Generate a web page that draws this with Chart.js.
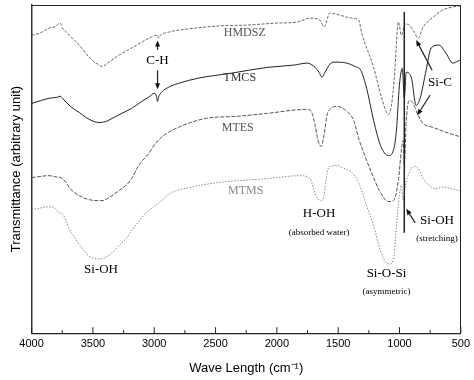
<!DOCTYPE html>
<html>
<head>
<meta charset="utf-8">
<script src="https://cdn.jsdelivr.net/npm/chart.js@4.4.0/dist/chart.umd.min.js"></script>
<style>
  html, body { margin: 0; padding: 0; background: #fff; }
  #wrap { width: 474px; height: 380px; }
</style>
</head>
<body>
<div id="wrap"><canvas id="ftir"></canvas></div>
<script>
// FTIR spectra, wavenumber (cm-1) vs transmittance (arbitrary)
const xTicks = [4000, 3500, 3000, 2500, 2000, 1500, 1000, 500];
const xMinorTicks = [3750, 3250, 2750, 2250, 1750, 1250, 750];

const hmdszWave = [4000, 3935, 3855, 3814, 3766, 3749, 3733, 3669, 3612, 3531, 3450, 3426, 3369, 3289, 3184, 3103, 3006, 2973, 2965, 2957, 2885, 2723, 2480, 2238, 1995, 1834, 1729, 1648, 1616, 1567, 1486, 1389, 1333, 1308, 1211, 1147, 1090, 1066, 1042, 1009, 985, 953, 920, 880, 848, 807, 726, 646, 565, 508];
const hmdszT = [90.8, 91.4, 93.0, 93.3, 94.5, 93.0, 92.4, 89.9, 87.8, 84.1, 81.7, 81.3, 82.6, 84.7, 86.9, 88.7, 90.5, 90.8, 89.9, 90.5, 91.7, 92.7, 93.6, 93.9, 94.5, 94.8, 96.0, 95.4, 93.3, 97.6, 96.9, 96.0, 95.4, 91.4, 81.0, 71.9, 66.7, 69.4, 78.0, 94.8, 90.8, 94.2, 93.9, 91.7, 89.9, 93.3, 96.3, 98.5, 99.4, 99.7];

const tmcsWave = [4000, 3855, 3790, 3766, 3741, 3717, 3652, 3612, 3555, 3491, 3450, 3394, 3345, 3264, 3184, 3103, 3046, 2998, 2982, 2973, 2965, 2941, 2885, 2804, 2642, 2375, 2076, 1858, 1753, 1688, 1656, 1632, 1608, 1567, 1535, 1430, 1365, 1316, 1268, 1211, 1155, 1090, 1050, 1025, 1001, 977, 961, 945, 904, 864, 832, 783, 742, 678, 621, 565, 508];
const tmcsT = [70.0, 71.6, 71.9, 72.2, 71.3, 70.3, 68.2, 67.3, 65.7, 64.5, 64.2, 64.5, 65.4, 67.0, 68.5, 70.6, 71.9, 73.1, 72.2, 70.6, 71.9, 73.4, 74.9, 76.1, 77.7, 79.2, 81.0, 81.7, 82.3, 81.0, 79.5, 78.0, 79.5, 82.0, 82.6, 82.3, 81.3, 80.1, 74.6, 64.8, 57.2, 54.1, 55.7, 61.8, 75.5, 80.7, 71.6, 79.5, 78.0, 69.4, 71.6, 80.1, 86.9, 87.8, 85.3, 82.3, 83.2];

const mtesWave = [4000, 3855, 3814, 3749, 3669, 3612, 3531, 3475, 3426, 3369, 3289, 3232, 3184, 3127, 3046, 2990, 2925, 2804, 2585, 2319, 2076, 1753, 1713, 1688, 1664, 1640, 1616, 1591, 1559, 1510, 1430, 1373, 1333, 1292, 1228, 1163, 1090, 1050, 1009, 985, 969, 961, 945, 920, 888, 856, 807, 726, 621, 508];
const mtesT = [47.4, 48.0, 47.7, 47.1, 43.4, 41.9, 40.7, 40.4, 40.4, 41.3, 43.4, 45.0, 47.1, 51.1, 54.7, 57.8, 60.2, 62.7, 65.4, 66.1, 67.0, 68.2, 67.0, 63.3, 58.7, 56.9, 60.2, 66.4, 68.5, 69.1, 67.6, 64.8, 59.3, 55.0, 48.9, 43.4, 40.1, 40.4, 46.5, 55.7, 58.7, 51.1, 64.8, 70.9, 70.0, 67.0, 63.9, 62.7, 61.2, 59.9];

const mtmsWave = [4000, 3855, 3814, 3774, 3749, 3693, 3636, 3572, 3531, 3450, 3394, 3345, 3289, 3232, 3184, 3103, 3046, 2941, 2860, 2723, 2480, 2076, 1810, 1729, 1696, 1672, 1640, 1616, 1591, 1567, 1510, 1470, 1389, 1333, 1268, 1211, 1155, 1106, 1074, 1042, 1025, 1001, 985, 969, 953, 920, 880, 848, 807, 759, 702, 646, 581, 508];
const mtmsT = [37.6, 38.5, 38.2, 36.7, 36.4, 31.8, 28.4, 25.1, 23.5, 22.6, 23.2, 24.5, 26.6, 28.7, 31.2, 35.2, 37.3, 40.4, 42.8, 44.3, 45.9, 47.1, 48.0, 47.1, 43.4, 41.3, 40.4, 41.9, 48.9, 50.8, 51.1, 50.5, 48.9, 45.9, 38.8, 32.7, 25.1, 21.4, 21.1, 24.5, 32.7, 41.9, 45.0, 40.4, 45.0, 48.9, 50.8, 50.2, 47.1, 45.0, 44.0, 44.6, 44.0, 43.4];

function pairs(xs, ys) {
  return xs.map((x, i) => ({ x: x, y: ys[i] }));
}

function arrow(ctx, x1, y1, x2, y2) {
  const ang = Math.atan2(y2 - y1, x2 - x1);
  const hl = 6, hw = 2.5;
  ctx.beginPath();
  ctx.moveTo(x1, y1);
  ctx.lineTo(x2 - Math.cos(ang) * hl * 0.8, y2 - Math.sin(ang) * hl * 0.8);
  ctx.stroke();
  ctx.beginPath();
  ctx.moveTo(x2, y2);
  ctx.lineTo(x2 - Math.cos(ang) * hl + Math.sin(ang) * hw, y2 - Math.sin(ang) * hl - Math.cos(ang) * hw);
  ctx.lineTo(x2 - Math.cos(ang) * hl - Math.sin(ang) * hw, y2 - Math.sin(ang) * hl + Math.cos(ang) * hw);
  ctx.closePath();
  ctx.fill();
}

// inward ticks, peak labels, arrows
const annotations = {
  id: 'annotations',
  afterDatasetsDraw(chart) {
    const ctx = chart.ctx;
    const xs = chart.scales.x, ys = chart.scales.y;
    const px = v => xs.getPixelForValue(v);
    const py = v => ys.getPixelForValue(v);
    const bottom = chart.chartArea.bottom;
    ctx.save();
    ctx.strokeStyle = '#222';
    ctx.fillStyle = '#111';
    ctx.lineWidth = 1;
    xTicks.forEach(v => {
      ctx.beginPath(); ctx.moveTo(px(v), bottom); ctx.lineTo(px(v), bottom - 6); ctx.stroke();
    });
    xMinorTicks.forEach(v => {
      ctx.beginPath(); ctx.moveTo(px(v), bottom); ctx.lineTo(px(v), bottom - 3); ctx.stroke();
    });

    // Si-OH stretching marker line
    ctx.lineWidth = 1.5;
    ctx.beginPath(); ctx.moveTo(px(961), py(97.9)); ctx.lineTo(px(961), py(30.6)); ctx.stroke();

    ctx.lineWidth = 1.2;
    arrow(ctx, px(2973), py(86.3), px(2973), py(89.2));
    arrow(ctx, px(2973), py(80.1), px(2973), py(74.3));
    arrow(ctx, px(734), py(80.1), px(864), py(89.3));
    arrow(ctx, px(751), py(72.5), px(856), py(66.4));
    arrow(ctx, px(872), py(33.6), px(945), py(37.9));

    ctx.textAlign = 'center';
    ctx.textBaseline = 'middle';
    const serif = '"Liberation Serif", "Times New Roman", serif';
    const put = (t, w, v, size, color) => {
      ctx.font = size + 'px ' + serif;
      ctx.fillStyle = color;
      ctx.fillText(t, px(w), py(v));
    };
    put('HMDSZ', 2262, 91.4, 12, '#555');
    put('TMCS', 2303, 77.7, 12, '#333');
    put('MTES', 2319, 62.7, 12, '#555');
    put('MTMS', 2254, 43.4, 12, '#888');
    put('C-H', 2973, 83.2, 13, '#000');
    put('Si-OH', 3434, 19.3, 13, '#000');
    put('H-OH', 1656, 36.4, 13, '#000');
    put('(absorbed water)', 1656, 30.6, 9, '#000');
    put('Si-O-Si', 1106, 18.3, 13, '#000');
    put('(asymmetric)', 1106, 12.8, 9, '#000');
    put('Si-OH', 694, 34.3, 13, '#000');
    put('(stretching)', 694, 28.7, 9, '#000');
    put('Si-C', 670, 76.5, 13, '#000');
    ctx.restore();
  }
};

const lineStyle = { pointRadius: 0, borderWidth: 1, fill: false, cubicInterpolationMode: 'monotone' };

new Chart(document.getElementById('ftir'), {
  type: 'line',
  data: {
    datasets: [
      { label: 'HMDSZ', data: pairs(hmdszWave, hmdszT), borderColor: '#6a6a6a', borderDash: [3, 1.5], ...lineStyle },
      { label: 'TMCS', data: pairs(tmcsWave, tmcsT), borderColor: '#222', ...lineStyle },
      { label: 'MTES', data: pairs(mtesWave, mtesT), borderColor: '#555', borderDash: [4, 1.5], ...lineStyle },
      { label: 'MTMS', data: pairs(mtmsWave, mtmsT), borderColor: '#8a8a8a', borderDash: [1.5, 1.5], ...lineStyle }
    ]
  },
  options: {
    responsive: true,
    maintainAspectRatio: false,
    animation: false,
    devicePixelRatio: 1,
    layout: { padding: { left: 5, right: 9, top: 5, bottom: 2 } },
    plugins: { legend: { display: false }, tooltip: { enabled: false } },
    scales: {
      x: {
        type: 'linear',
        reverse: true,
        min: 500,
        max: 4000,
        afterBuildTicks: scale => { scale.ticks = xTicks.map(v => ({ value: v })); },
        ticks: {
          padding: 4,
          color: '#000',
          font: { family: '"Liberation Sans", Arial, sans-serif', size: 11 },
          callback: v => String(v)
        },
        grid: { display: false, drawTicks: false },
        border: { display: true, color: '#222', width: 1.2 },
        title: {
          display: true,
          text: 'Wave Length (cm\u207B\u00B9)',
          color: '#000',
          font: { family: '"Liberation Sans", Arial, sans-serif', size: 13 },
          padding: { top: 6, bottom: 2 }
        }
      },
      xTop: {
        type: 'linear', position: 'top', min: 500, max: 4000, reverse: true,
        ticks: { display: false }, grid: { display: false, drawTicks: false },
        border: { display: true, color: '#222', width: 1 }
      },
      y: {
        min: 0,
        max: 100,
        ticks: { display: false },
        grid: { display: false, drawTicks: false },
        border: { display: true, color: '#333', width: 1.5 },
        title: {
          display: true,
          text: 'Transmittance (arbitrary unit)',
          color: '#000',
          font: { family: '"Liberation Sans", Arial, sans-serif', size: 13 },
          padding: { top: 4, bottom: 7 }
        }
      },
      yRight: {
        position: 'right', min: 0, max: 100,
        ticks: { display: false }, grid: { display: false, drawTicks: false },
        border: { display: true, color: '#222', width: 1 }
      }
    }
  },
  plugins: [annotations]
});
</script>
</body>
</html>
